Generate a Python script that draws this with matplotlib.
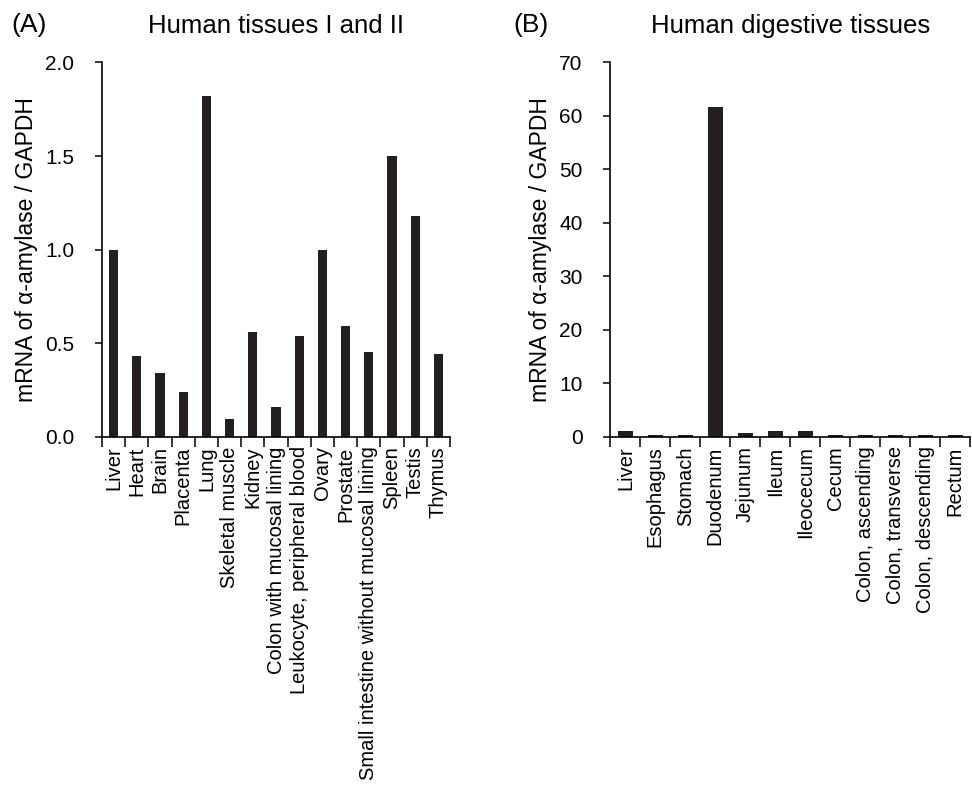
import matplotlib
matplotlib.use("Agg")
from matplotlib import pyplot as plt
import numpy as np

plt.rcParams['font.family'] = ['Liberation Sans', 'DejaVu Sans']

# Panel A data
tissues_a = ['Liver', 'Heart', 'Brain', 'Placenta', 'Lung', 'Skeletal muscle', 'Kidney',
             'Colon with mucosal lining', 'Leukocyte, peripheral blood', 'Ovary', 'Prostate',
             'Small intestine without mucosal lining', 'Spleen', 'Testis', 'Thymus']
values_a = [1.00, 0.43, 0.34, 0.24, 1.82, 0.095, 0.56, 0.157, 0.54, 1.00, 0.59, 0.45, 1.50, 1.18, 0.44]

# Panel B data
tissues_b = ['Liver', 'Esophagus', 'Stomach', 'Duodenum', 'Jejunum', 'Ileum', 'Ileocecum',
             'Cecum', 'Colon, ascending', 'Colon, transverse', 'Colon, descending', 'Rectum']
values_b = [1.0, 0.35, 0.35, 61.7, 0.75, 1.0, 1.0, 0.35, 0.35, 0.35, 0.35, 0.35]

bar_color = '#231f20'
ylab = 'mRNA of α-amylase / GAPDH'

fig = plt.figure(figsize=(9.72, 7.91), dpi=100)
ax1 = fig.add_axes([0.105, 0.448, 0.358, 0.473])
ax2 = fig.add_axes([0.628, 0.448, 0.370, 0.473])


def style_axis(ax, labels, values, width, ymax, yticks, fmt):
    x = np.arange(len(labels))
    ax.bar(x, values, width=width, color=bar_color)
    ax.set_xlim(-0.5, len(labels) - 0.5)
    ax.set_ylim(0, ymax)
    ax.set_yticks(yticks)
    ax.set_yticklabels([fmt.format(v) for v in yticks], fontsize=15)
    # category labels at centres, ticks between categories
    ax.set_xticks(x)
    ax.set_xticklabels(labels, rotation=90, fontsize=14.5)
    ax.tick_params(axis='x', which='major', length=0, pad=7)
    ax.set_xticks(np.arange(-0.5, len(labels)), minor=True)
    ax.tick_params(axis='x', which='minor', length=7, width=1.1, direction='out')
    ax.tick_params(axis='y', length=5, width=1.1, direction='out', pad=15)
    for s in ['top', 'right']:
        ax.spines[s].set_visible(False)
    for s in ['left', 'bottom']:
        ax.spines[s].set_linewidth(1.2)
    ax.set_ylabel(ylab, fontsize=16.5, labelpad=5)


style_axis(ax1, tissues_a, values_a, 0.4, 2.0, [0.0, 0.5, 1.0, 1.5, 2.0], '{:.1f}')
style_axis(ax2, tissues_b, values_b, 0.5, 70, [0, 10, 20, 30, 40, 50, 60, 70], '{:d}')

ax1.set_title('Human tissues I and II', fontsize=18.5, pad=21)
ax2.set_title('Human digestive tissues', fontsize=18.5, pad=21)
fig.text(0.012, 0.968, '(A)', fontsize=19, va='center')
fig.text(0.528, 0.968, '(B)', fontsize=19, va='center')

plt.savefig('out.png', dpi=100)
